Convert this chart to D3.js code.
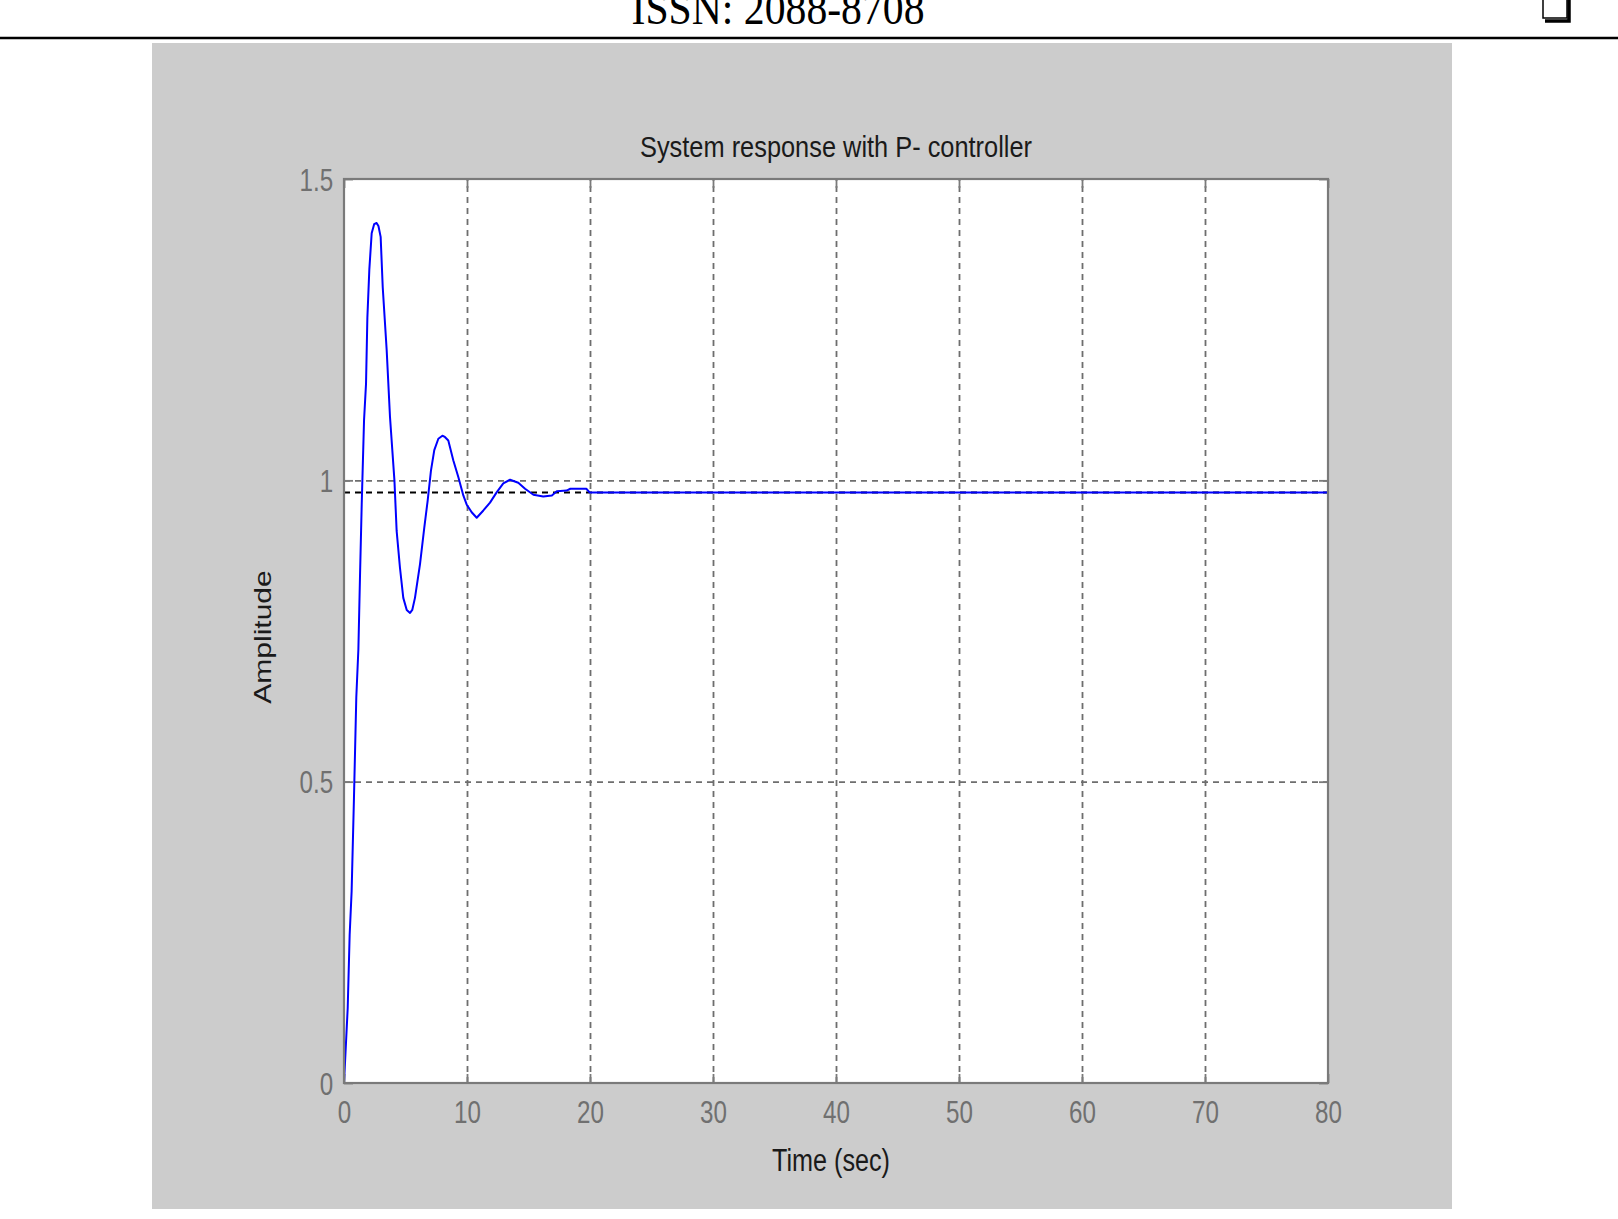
<!DOCTYPE html>
<html>
<head>
<meta charset="utf-8">
<script src="https://cdn.jsdelivr.net/npm/d3@7"></script>
<style>
  body { margin: 0; background: #fff; }
  svg { display: block; }
</style>
</head>
<body>
<div id="chart"></div>
<script>
// step response
var timeSec = [0, 0.3, 0.46, 0.62, 0.81, 1.0, 1.17, 1.3, 1.44, 1.63,
    1.79, 1.9, 2.06, 2.25, 2.45, 2.65, 2.8, 2.98, 3.15, 3.47,
    3.74, 4.1, 4.28, 4.55, 4.82, 5.1, 5.37, 5.55, 5.77, 6.18,
    6.53, 6.8, 7.07, 7.34, 7.67, 8.0, 8.2, 8.48, 8.89, 9.3,
    9.7, 9.97, 10.38, 10.79, 11.33, 11.87, 12.41, 12.95, 13.5, 14.17,
    14.72, 15.4, 16.2, 16.9, 17.3, 18.1, 18.4, 19.7, 19.97, 80];
var amplitude = [0, 0.124, 0.246, 0.318, 0.473, 0.64, 0.72, 0.84, 0.96, 1.1,
    1.16, 1.27, 1.35, 1.41, 1.425, 1.427, 1.422, 1.404, 1.32, 1.216,
    1.105, 1.0, 0.916, 0.855, 0.805, 0.785, 0.78, 0.785, 0.805, 0.861,
    0.922, 0.966, 1.016, 1.05, 1.069, 1.074, 1.072, 1.066, 1.033, 1.005,
    0.975, 0.96, 0.947, 0.938, 0.95, 0.963, 0.98, 0.995, 1.001, 0.996,
    0.986, 0.976, 0.973, 0.975, 0.982, 0.983, 0.986, 0.986, 0.98, 0.98];
var finalValue = [0.98];
var xTicks = [0, 10, 20, 30, 40, 50, 60, 70, 80];
var yTicks = [0, 0.5, 1, 1.5];
var xTickLabels = ["0", "10", "20", "30", "40", "50", "60", "70", "80"];
var yTickLabels = ["0", "0.5", "1", "1.5"];

var svgWidth = 1618;
var svgHeight = 1219;
var plot = { left: 344, right: 1328, top: 179, bottom: 1083 };
var chartWidth = plot.right - plot.left;
var chartHeight = plot.bottom - plot.top;
var frameColor = "#7a7a7a";
var labelFont = "'Liberation Sans', Arial, sans-serif";

var svg = d3.select("#chart")
    .append("svg")
    .attr("width", svgWidth)
    .attr("height", svgHeight);

// page header (cut off at top, as in the scan)
svg.append("text")
    .attr("x", 778)
    .attr("y", 24)
    .attr("text-anchor", "middle")
    .attr("font-family", "'Liberation Serif', 'Times New Roman', serif")
    .attr("font-size", 46)
    .attr("textLength", 293)
    .attr("lengthAdjust", "spacingAndGlyphs")
    .attr("fill", "#000")
    .text("ISSN: 2088-8708");

svg.append("rect")
    .attr("x", 1543).attr("y", -6)
    .attr("width", 24).attr("height", 24)
    .attr("fill", "none").attr("stroke", "#000").attr("stroke-width", 1.5);
svg.append("path")
    .attr("d", "M1569,-6 V21 H1545")
    .attr("fill", "none").attr("stroke", "#000").attr("stroke-width", 3.5);

svg.append("line")
    .attr("x1", 0).attr("x2", svgWidth)
    .attr("y1", 38).attr("y2", 38)
    .attr("stroke", "#000").attr("stroke-width", 2.7);

// figure background
svg.append("rect")
    .attr("x", 152).attr("y", 43)
    .attr("width", 1300).attr("height", 1166)
    .attr("fill", "#cccccc");

var chartGroup = svg.append("g")
    .attr("transform", "translate(" + plot.left + "," + plot.top + ")");

chartGroup.append("rect")
    .attr("width", chartWidth)
    .attr("height", chartHeight)
    .attr("fill", "#fff");

var xScale = d3.scaleLinear().domain([0, 80]).range([0, chartWidth]);
var yScale = d3.scaleLinear().domain([0, 1.5]).range([chartHeight, 0]);

// grid lines
chartGroup.append("g")
    .attr("class", "grid")
    .attr("transform", "translate(0," + chartHeight + ")")
    .call(d3.axisBottom(xScale).tickValues(xTicks.slice(1, -1)).tickSize(-chartHeight).tickFormat(""));
chartGroup.append("g")
    .attr("class", "grid")
    .call(d3.axisLeft(yScale).tickValues(yTicks.slice(1, -1)).tickSize(-chartWidth).tickFormat(""));
chartGroup.selectAll(".grid .domain").remove();
chartGroup.selectAll(".grid line")
    .attr("stroke", "#6e6e6e")
    .attr("stroke-width", 1.8)
    .attr("stroke-dasharray", "6,5");

// inward tick marks on all four sides
var tickLen = 9;
chartGroup.append("g").attr("class", "ticks")
    .attr("transform", "translate(0," + chartHeight + ")")
    .call(d3.axisTop(xScale).tickValues(xTicks).tickSize(tickLen).tickFormat(""));
chartGroup.append("g").attr("class", "ticks")
    .call(d3.axisBottom(xScale).tickValues(xTicks).tickSize(tickLen).tickFormat(""));
chartGroup.append("g").attr("class", "ticks")
    .call(d3.axisRight(yScale).tickValues(yTicks).tickSize(tickLen).tickFormat(""));
chartGroup.append("g").attr("class", "ticks")
    .attr("transform", "translate(" + chartWidth + ",0)")
    .call(d3.axisLeft(yScale).tickValues(yTicks).tickSize(tickLen).tickFormat(""));
chartGroup.selectAll(".ticks .domain").remove();
chartGroup.selectAll(".ticks line")
    .attr("stroke", frameColor)
    .attr("stroke-width", 1.8);

// steady state reference
chartGroup.selectAll(".final")
    .data(finalValue)
    .enter()
    .append("line")
    .attr("class", "final")
    .attr("x1", xScale(0)).attr("x2", xScale(80))
    .attr("y1", d => yScale(d)).attr("y2", d => yScale(d))
    .attr("stroke", "#000")
    .attr("stroke-width", 2)
    .attr("stroke-dasharray", "6,5");

// response curve
var points = timeSec.map((t, i) => [t, amplitude[i]]);
var line = d3.line()
    .x(d => xScale(d[0]))
    .y(d => yScale(d[1]));

chartGroup.append("path")
    .datum(points)
    .attr("d", line)
    .attr("fill", "none")
    .attr("stroke", "#0000ff")
    .attr("stroke-width", 2)
    .attr("stroke-linejoin", "round");

// frame
chartGroup.append("rect")
    .attr("width", chartWidth)
    .attr("height", chartHeight)
    .attr("fill", "none")
    .attr("stroke", frameColor)
    .attr("stroke-width", 2.2);

// tick labels
var xLabelAxis = chartGroup.append("g")
    .attr("transform", "translate(0," + chartHeight + ")")
    .call(d3.axisBottom(xScale).tickValues(xTicks).tickSize(0).tickPadding(0)
        .tickFormat((d, i) => xTickLabels[i]));
xLabelAxis.select(".domain").remove();
xLabelAxis.selectAll("text")
    .attr("y", 40)
    .attr("dy", 0)
    .attr("font-family", labelFont)
    .attr("font-size", 31)
    .attr("fill", "#707070")
    .attr("transform", "scale(0.78,1)");

var yLabelAxis = chartGroup.append("g")
    .call(d3.axisLeft(yScale).tickValues(yTicks).tickSize(0).tickPadding(0)
        .tickFormat((d, i) => yTickLabels[i]));
yLabelAxis.select(".domain").remove();
yLabelAxis.selectAll("text")
    .attr("x", -14)
    .attr("dy", 11)
    .attr("font-family", labelFont)
    .attr("font-size", 31)
    .attr("fill", "#707070")
    .attr("transform", "scale(0.78,1)");

// title and axis labels
svg.append("text")
    .attr("x", 836)
    .attr("y", 157)
    .attr("text-anchor", "middle")
    .attr("font-family", labelFont)
    .attr("font-size", 30)
    .attr("textLength", 392)
    .attr("lengthAdjust", "spacingAndGlyphs")
    .attr("fill", "#1a1a1a")
    .text("System response with P- controller");

svg.append("text")
    .attr("x", 831)
    .attr("y", 1171)
    .attr("text-anchor", "middle")
    .attr("font-family", labelFont)
    .attr("font-size", 31)
    .attr("textLength", 118)
    .attr("lengthAdjust", "spacingAndGlyphs")
    .attr("fill", "#1a1a1a")
    .text("Time (sec)");

svg.append("text")
    .attr("transform", "translate(271,637) scale(0.8,1) rotate(-90)")
    .attr("text-anchor", "middle")
    .attr("font-family", labelFont)
    .attr("font-size", 30)
    .attr("fill", "#1a1a1a")
    .text("Amplitude");
</script>
</body>
</html>
